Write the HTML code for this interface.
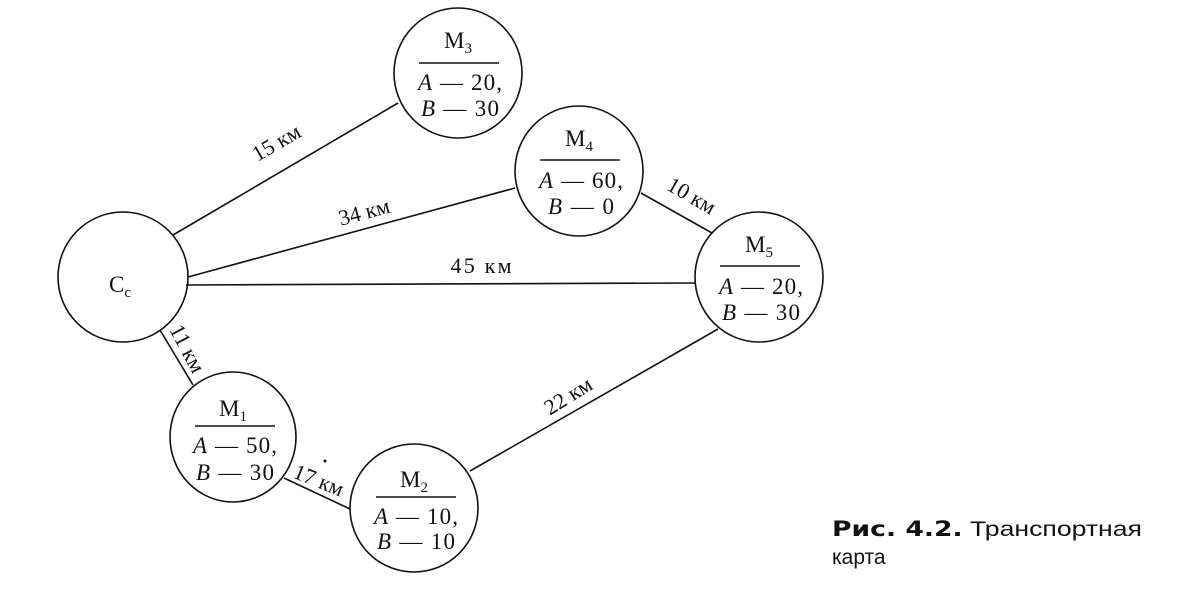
<!DOCTYPE html>
<html><head><meta charset="utf-8"><style>
html,body{margin:0;padding:0;background:#fff;}
svg{display:block;}
.t{font-family:"Liberation Serif","DejaVu Serif",serif;font-size:23px;fill:#111;}
.i{font-style:italic;}
</style></head><body>
<svg width="1182" height="598" viewBox="0 0 1182 598" xmlns="http://www.w3.org/2000/svg">
<g stroke="#111" stroke-width="1.6" fill="none">
<line x1="173" y1="235" x2="398" y2="103"/>
<line x1="188" y1="277" x2="515" y2="188"/>
<line x1="186" y1="285" x2="696" y2="283"/>
<line x1="641" y1="193" x2="712" y2="233"/>
<line x1="718" y1="329" x2="470" y2="471"/>
<line x1="160" y1="330" x2="193" y2="385"/>
<line x1="284" y1="478" x2="350" y2="509"/>
<ellipse cx="458" cy="73" rx="64" ry="65"/>
<ellipse cx="579" cy="171" rx="64" ry="65"/>
<ellipse cx="123" cy="277" rx="65" ry="65"/>
<ellipse cx="759" cy="277" rx="64" ry="65"/>
<ellipse cx="233" cy="437" rx="63" ry="65"/>
<ellipse cx="414" cy="508" rx="64" ry="64"/>
<line x1="419" y1="63" x2="499" y2="63"/>
<line x1="540" y1="160" x2="620" y2="160"/>
<line x1="720" y1="266" x2="800" y2="266"/>
<line x1="195" y1="426" x2="275" y2="426"/>
<line x1="376" y1="497" x2="456" y2="497"/>
</g>
<g class="t" text-anchor="middle">
<text x="458" y="48">M<tspan font-size="15" dy="5">3</tspan></text>
<text x="460" y="90" textLength="84"><tspan class="i">A</tspan> — 20,</text>
<text x="460" y="116" textLength="78"><tspan class="i">B</tspan> — 30</text>
<text x="579" y="146">M<tspan font-size="15" dy="5">4</tspan></text>
<text x="581" y="188" textLength="84"><tspan class="i">A</tspan> — 60,</text>
<text x="581" y="214" textLength="66"><tspan class="i">B</tspan> — 0</text>
<text x="120" y="292">C<tspan font-size="15" dy="5">c</tspan></text>
<text x="759" y="252">M<tspan font-size="15" dy="5">5</tspan></text>
<text x="761" y="294" textLength="84"><tspan class="i">A</tspan> — 20,</text>
<text x="761" y="320" textLength="78"><tspan class="i">B</tspan> — 30</text>
<text x="233" y="416">M<tspan font-size="15" dy="5">1</tspan></text>
<text x="235" y="453" textLength="84"><tspan class="i">A</tspan> — 50,</text>
<text x="235" y="480" textLength="78"><tspan class="i">B</tspan> — 30</text>
<text x="414" y="487">M<tspan font-size="15" dy="5">2</tspan></text>
<text x="416" y="524" textLength="84"><tspan class="i">A</tspan> — 10,</text>
<text x="416" y="549" textLength="78"><tspan class="i">B</tspan> — 10</text>
<text font-size="22" transform="translate(280,149) rotate(-30)">15 км</text>
<text font-size="22" transform="translate(366,219) rotate(-15)">34 км</text>
<text font-size="22" x="481" y="273" textLength="61">45 км</text>
<text font-size="22" transform="translate(688,202) rotate(30)">10 км</text>
<text font-size="22" transform="translate(572,402) rotate(-32)">22 км</text>
<text font-size="22" transform="translate(181,352) rotate(62)">11 км</text>
<text font-size="22" transform="translate(316,487) rotate(22)">17 км</text>
</g>
<circle cx="325" cy="461" r="1.5" fill="#111"/>
<text x="832" y="536" font-family="'Liberation Sans','DejaVu Sans',sans-serif" font-size="21" fill="#111" textLength="310" lengthAdjust="spacingAndGlyphs"><tspan font-weight="900" font-family="'DejaVu Sans',sans-serif">Рис. 4.2.</tspan> Транспортная</text>
<text x="832" y="564" font-family="'Liberation Sans','DejaVu Sans',sans-serif" font-size="21" fill="#111">карта</text>
</svg>
</body></html>
